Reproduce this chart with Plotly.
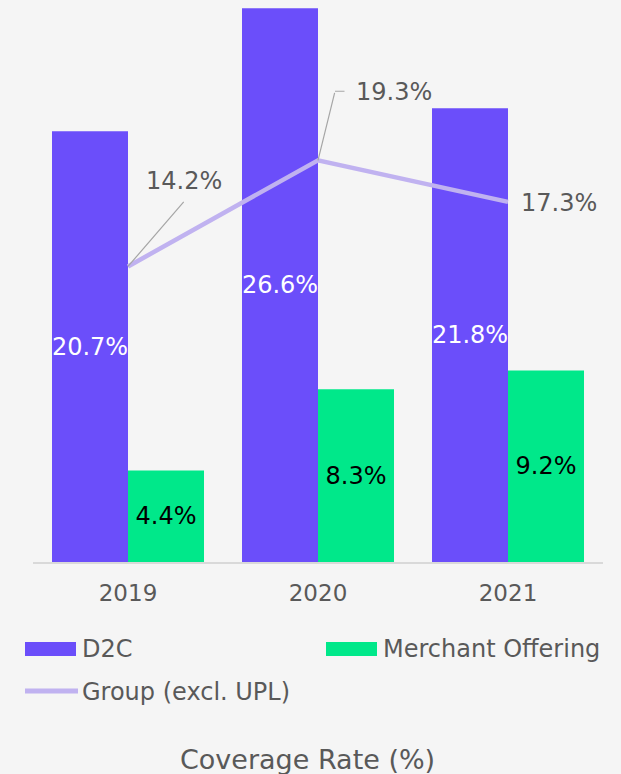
import plotly.graph_objects as go

# Data
years = ["2019", "2020", "2021"]
d2c = [20.7, 26.6, 21.8]
merchant = [4.4, 8.3, 9.2]
group_excl_upl = [14.2, 19.3, 17.3]

# Styling
BG = "#f5f5f5"
PURPLE = "#6b4efa"
GREEN = "#00e88a"
LILAC = "#c0b2f0"
GREY_TEXT = "#595959"
LEADER = "#a6a6a6"
FONT = "DejaVu Sans"

W, H = 621, 774
L, R, T, B = 33, 18, 0, 212
PLOT_W = W - L - R
PLOT_H = H - T - B


def px(x):
    """pixel x -> paper x"""
    return (x - L) / PLOT_W


def py(y):
    """pixel y -> paper y"""
    return (T + PLOT_H - y) / PLOT_H


fig = go.Figure()

fig.add_trace(go.Bar(
    x=years, y=d2c, name="D2C",
    marker=dict(color=PURPLE, line=dict(width=0)),
    texttemplate="%{y:.1f}%", textposition="inside",
    insidetextanchor="middle", constraintext="none", textangle=0,
    textfont=dict(color="white", size=24, family=FONT),
))
fig.add_trace(go.Bar(
    x=years, y=merchant, name="Merchant Offering",
    marker=dict(color=GREEN, line=dict(width=0)),
    texttemplate="%{y:.1f}%", textposition="inside",
    insidetextanchor="middle", constraintext="none", textangle=0,
    textfont=dict(color="black", size=24, family=FONT),
))
fig.add_trace(go.Scatter(
    x=years, y=group_excl_upl, name="Group (excl. UPL)",
    mode="lines", line=dict(color=LILAC, width=4.5),
))

# line labels with leader lines (category index used as x)
lbl_font = dict(family=FONT, size=24, color=GREY_TEXT)
fmt = [f"{v:.1f}%" for v in group_excl_upl]
leader = dict(showarrow=True, arrowhead=0, arrowwidth=1.2, arrowcolor=LEADER,
              standoff=0, startstandoff=0, text="")

# 2019: diagonal leader up-right
fig.add_annotation(x=0, y=group_excl_upl[0], ax=57, ay=-66, **leader)
fig.add_annotation(x=0, y=group_excl_upl[0], text=fmt[0], showarrow=False,
                   xshift=56, yshift=85, font=lbl_font)
# 2020: elbow leader
fig.add_annotation(x=1, y=group_excl_upl[1], ax=17, ay=-69, **leader)
fig.add_annotation(x=1, y=group_excl_upl[1], ax=11, ay=0, xshift=17, yshift=69,
                   **leader)
fig.add_annotation(x=1, y=group_excl_upl[1], text=fmt[1], showarrow=False,
                   xanchor="left", xshift=36, yshift=68, font=lbl_font)
# 2021: right of point
fig.add_annotation(x=2, y=group_excl_upl[2], text=fmt[2], showarrow=False,
                   xanchor="left", xshift=11, yshift=-1, font=lbl_font)

# custom legend (drawn to match the wide swatches of the original)
shapes = [
    dict(type="rect", xref="paper", yref="paper",
         x0=px(25), x1=px(76), y0=py(656), y1=py(642),
         fillcolor=PURPLE, line=dict(width=0)),
    dict(type="rect", xref="paper", yref="paper",
         x0=px(326), x1=px(377), y0=py(656), y1=py(642),
         fillcolor=GREEN, line=dict(width=0)),
    dict(type="line", xref="paper", yref="paper",
         x0=px(25), x1=px(78), y0=py(691), y1=py(691),
         line=dict(color=LILAC, width=5)),
]
legend_font = dict(family=FONT, size=24, color=GREY_TEXT)
for text, x, y in [("D2C", 80, 649), ("Merchant Offering", 381, 649),
                   ("Group (excl. UPL)", 80, 692)]:
    fig.add_annotation(xref="paper", yref="paper", x=px(x), y=py(y), text=text,
                       showarrow=False, xanchor="left", yanchor="middle",
                       font=legend_font)

fig.add_annotation(xref="paper", yref="paper", x=px(307), y=py(759),
                   text="Coverage Rate (%)", showarrow=False,
                   xanchor="center", yanchor="middle",
                   font=dict(family=FONT, size=27, color=GREY_TEXT))

fig.update_layout(
    width=W, height=H,
    margin=dict(l=L, r=R, t=T, b=B, pad=0),
    paper_bgcolor=BG, plot_bgcolor=BG,
    barmode="group", bargap=0.2, bargroupgap=0,
    showlegend=False,
    shapes=shapes,
    font=dict(family=FONT, color=GREY_TEXT),
)
fig.update_xaxes(
    type="category", range=[-0.5, 2.5], showline=True, linecolor="#d9d9d9",
    linewidth=2, showgrid=False, zeroline=False, ticks="outside", ticklen=9,
    tickcolor="rgba(0,0,0,0)", tickfont=dict(family=FONT, size=23, color=GREY_TEXT),
    automargin=False,
)
fig.update_yaxes(range=[0, 27], visible=False, showgrid=False, zeroline=False,
                 automargin=False)

fig.write_html("out.html", config={"displayModeBar": False},
               post_script="document.body.style.margin='0';")
